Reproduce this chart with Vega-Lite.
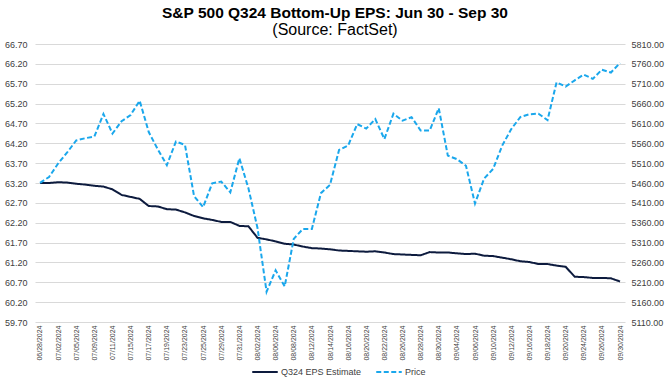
{
  "$schema": "https://vega.github.io/schema/vega-lite/v6.json",
  "width": 590,
  "height": 278,
  "autosize": {"type": "none"},
  "padding": {"left": 35, "top": 44, "right": 47, "bottom": 62},
  "background": "white",
  "title": {
    "text": "S&P 500 Q324 Bottom-Up EPS: Jun 30 - Sep 30",
    "subtitle": "(Source: FactSet)",
    "font": "Liberation Sans",
    "fontSize": 15.5,
    "fontWeight": "bold",
    "color": "#000000",
    "subtitleFont": "Liberation Sans",
    "subtitleFontSize": 16,
    "subtitleColor": "#000000",
    "subtitlePadding": 1,
    "anchor": "middle",
    "dx": 5,
    "offset": 2
  },
  "config": {
    "view": {"stroke": null},
    "font": "Liberation Sans"
  },
  "data": {
    "values": [
      {"date": "06/28/2024", "EPS": 63.20, "Price": 5460.48},
      {"date": "07/01/2024", "EPS": 63.20, "Price": 5475.09},
      {"date": "07/02/2024", "EPS": 63.22, "Price": 5509.01},
      {"date": "07/03/2024", "EPS": 63.21, "Price": 5537.02},
      {"date": "07/05/2024", "EPS": 63.18, "Price": 5567.19},
      {"date": "07/08/2024", "EPS": 63.16, "Price": 5572.85},
      {"date": "07/09/2024", "EPS": 63.13, "Price": 5576.98},
      {"date": "07/10/2024", "EPS": 63.11, "Price": 5633.91},
      {"date": "07/11/2024", "EPS": 63.04, "Price": 5584.54},
      {"date": "07/12/2024", "EPS": 62.90, "Price": 5615.35},
      {"date": "07/15/2024", "EPS": 62.85, "Price": 5631.22},
      {"date": "07/16/2024", "EPS": 62.80, "Price": 5667.20},
      {"date": "07/17/2024", "EPS": 62.62, "Price": 5588.27},
      {"date": "07/18/2024", "EPS": 62.61, "Price": 5544.59},
      {"date": "07/19/2024", "EPS": 62.54, "Price": 5505.00},
      {"date": "07/22/2024", "EPS": 62.53, "Price": 5564.41},
      {"date": "07/23/2024", "EPS": 62.46, "Price": 5555.74},
      {"date": "07/24/2024", "EPS": 62.37, "Price": 5427.13},
      {"date": "07/25/2024", "EPS": 62.31, "Price": 5399.22},
      {"date": "07/26/2024", "EPS": 62.27, "Price": 5459.10},
      {"date": "07/29/2024", "EPS": 62.22, "Price": 5463.54},
      {"date": "07/30/2024", "EPS": 62.22, "Price": 5436.44},
      {"date": "07/31/2024", "EPS": 62.12, "Price": 5522.30},
      {"date": "08/01/2024", "EPS": 62.11, "Price": 5446.68},
      {"date": "08/02/2024", "EPS": 61.82, "Price": 5346.56},
      {"date": "08/05/2024", "EPS": 61.78, "Price": 5186.33},
      {"date": "08/06/2024", "EPS": 61.73, "Price": 5240.03},
      {"date": "08/07/2024", "EPS": 61.67, "Price": 5199.50},
      {"date": "08/08/2024", "EPS": 61.65, "Price": 5319.31},
      {"date": "08/09/2024", "EPS": 61.60, "Price": 5344.16},
      {"date": "08/12/2024", "EPS": 61.56, "Price": 5344.39},
      {"date": "08/13/2024", "EPS": 61.55, "Price": 5434.43},
      {"date": "08/14/2024", "EPS": 61.53, "Price": 5455.21},
      {"date": "08/15/2024", "EPS": 61.50, "Price": 5543.22},
      {"date": "08/16/2024", "EPS": 61.49, "Price": 5554.25},
      {"date": "08/19/2024", "EPS": 61.48, "Price": 5608.25},
      {"date": "08/20/2024", "EPS": 61.47, "Price": 5597.12},
      {"date": "08/21/2024", "EPS": 61.48, "Price": 5620.85},
      {"date": "08/22/2024", "EPS": 61.45, "Price": 5570.64},
      {"date": "08/23/2024", "EPS": 61.41, "Price": 5634.61},
      {"date": "08/26/2024", "EPS": 61.40, "Price": 5616.84},
      {"date": "08/27/2024", "EPS": 61.39, "Price": 5625.80},
      {"date": "08/28/2024", "EPS": 61.38, "Price": 5592.18},
      {"date": "08/29/2024", "EPS": 61.46, "Price": 5591.96},
      {"date": "08/30/2024", "EPS": 61.45, "Price": 5648.40},
      {"date": "09/03/2024", "EPS": 61.45, "Price": 5528.93},
      {"date": "09/04/2024", "EPS": 61.43, "Price": 5520.07},
      {"date": "09/05/2024", "EPS": 61.41, "Price": 5503.41},
      {"date": "09/06/2024", "EPS": 61.42, "Price": 5408.42},
      {"date": "09/09/2024", "EPS": 61.37, "Price": 5471.05},
      {"date": "09/10/2024", "EPS": 61.36, "Price": 5495.52},
      {"date": "09/11/2024", "EPS": 61.32, "Price": 5554.13},
      {"date": "09/12/2024", "EPS": 61.28, "Price": 5595.76},
      {"date": "09/13/2024", "EPS": 61.23, "Price": 5626.02},
      {"date": "09/16/2024", "EPS": 61.21, "Price": 5633.09},
      {"date": "09/17/2024", "EPS": 61.16, "Price": 5634.58},
      {"date": "09/18/2024", "EPS": 61.16, "Price": 5618.26},
      {"date": "09/19/2024", "EPS": 61.12, "Price": 5713.64},
      {"date": "09/20/2024", "EPS": 61.09, "Price": 5702.55},
      {"date": "09/23/2024", "EPS": 60.84, "Price": 5718.57},
      {"date": "09/24/2024", "EPS": 60.83, "Price": 5732.93},
      {"date": "09/25/2024", "EPS": 60.81, "Price": 5722.26},
      {"date": "09/26/2024", "EPS": 60.81, "Price": 5745.37},
      {"date": "09/27/2024", "EPS": 60.80, "Price": 5738.17},
      {"date": "09/30/2024", "EPS": 60.72, "Price": 5762.48}
    ]
  },
  "encoding": {
    "x": {
      "field": "date",
      "type": "ordinal",
      "sort": null,
      "scale": {"type": "point", "padding": 0.55},
      "axis": {
        "title": null,
        "labelAngle": -90,
        "labelFontSize": 7,
        "labelColor": "#404040",
        "labelPadding": 3,
        "ticks": false,
        "domain": false,
        "grid": false,
        "labelOverlap": false,
        "values": ["06/28/2024","07/02/2024","07/05/2024","07/09/2024","07/11/2024","07/15/2024","07/17/2024","07/19/2024","07/23/2024","07/25/2024","07/29/2024","07/31/2024","08/02/2024","08/06/2024","08/08/2024","08/12/2024","08/14/2024","08/16/2024","08/20/2024","08/22/2024","08/26/2024","08/28/2024","08/30/2024","09/04/2024","09/06/2024","09/10/2024","09/12/2024","09/16/2024","09/18/2024","09/20/2024","09/24/2024","09/26/2024","09/30/2024"]
      }
    },
    "color": {
      "field": "series",
      "type": "nominal",
      "scale": {"domain": ["EPS", "Price"], "range": ["#0d1b3e", "#1aa7ec"]},
      "legend": {
        "title": null,
        "orient": "none",
        "legendX": 216,
        "legendY": 314,
        "direction": "horizontal",
        "symbolType": "stroke",
        "symbolSize": 650,
        "symbolStrokeWidth": 2,
        "labelFontSize": 9,
        "labelColor": "#404040",
        "labelOffset": 2,
        "columnPadding": 10,
        "labelExpr": "datum.label == 'EPS' ? 'Q324 EPS Estimate' : 'Price'"
      }
    },
    "strokeDash": {
      "field": "series",
      "type": "nominal",
      "scale": {"domain": ["EPS", "Price"], "range": [[1, 0], [5, 2.5]]},
      "legend": null
    }
  },
  "layer": [
    {
      "transform": [{"fold": ["EPS"], "as": ["series", "value"]}],
      "mark": {"type": "line", "strokeWidth": 2},
      "encoding": {
        "y": {
          "field": "value",
          "type": "quantitative",
          "scale": {"domain": [59.7, 66.7], "zero": false, "nice": false},
          "axis": {
            "title": null,
            "orient": "left",
            "values": [59.7, 60.2, 60.7, 61.2, 61.7, 62.2, 62.7, 63.2, 63.7, 64.2, 64.7, 65.2, 65.7, 66.2, 66.7],
            "format": ".2f",
            "labelFontSize": 9,
            "labelColor": "#404040",
            "labelPadding": 8,
            "ticks": false,
            "domain": false,
            "grid": true,
            "gridColor": "#d9d9d9",
            "gridWidth": 1
          }
        }
      }
    },
    {
      "transform": [{"fold": ["Price"], "as": ["series", "value"]}],
      "mark": {"type": "line", "strokeWidth": 2},
      "encoding": {
        "y": {
          "field": "value",
          "type": "quantitative",
          "scale": {"domain": [5110, 5810], "zero": false, "nice": false},
          "axis": {
            "title": null,
            "orient": "right",
            "values": [5110, 5160, 5210, 5260, 5310, 5360, 5410, 5460, 5510, 5560, 5610, 5660, 5710, 5760, 5810],
            "format": ".2f",
            "labelFontSize": 9,
            "labelColor": "#404040",
            "labelPadding": 6,
            "ticks": false,
            "domain": false,
            "grid": false
          }
        }
      }
    }
  ],
  "resolve": {"scale": {"y": "independent"}}
}
